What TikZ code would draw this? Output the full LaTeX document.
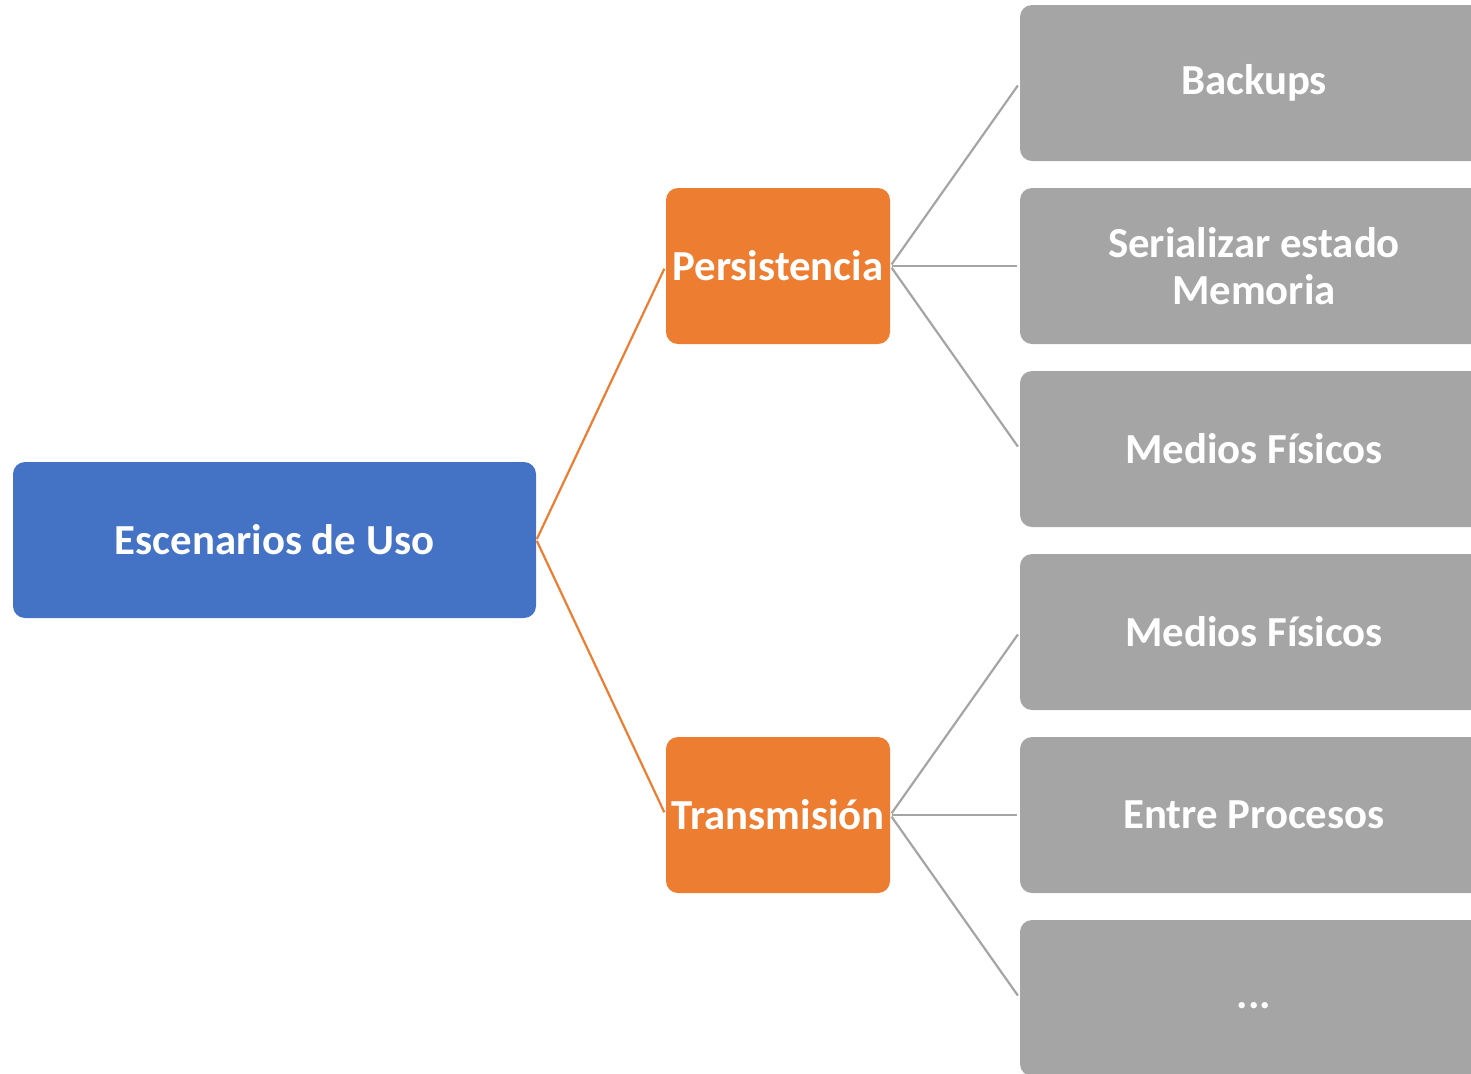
\documentclass[tikz,border=0pt]{standalone}
\usepackage{fontspec}
\setmainfont{Carlito}
\usepackage{xcolor}
\definecolor{schemeblue}{RGB}{68,114,196}
\definecolor{schemeorange}{RGB}{237,125,49}
\definecolor{schemegray}{RGB}{165,165,165}

\begin{document}
\begin{tikzpicture}[x=0.5pt,y=-0.5pt,
    rootbox/.style={fill=schemeblue, rounded corners=6pt, inner sep=0pt,
        minimum width=261.5pt, minimum height=78pt, text=white,
        font=\bfseries\fontsize{21.4}{23.5}\selectfont, align=center},
    groupbox/.style={rootbox, fill=schemeorange, minimum width=112pt},
    leafbox/.style={rootbox, fill=schemegray, minimum width=234pt},
    rootlink/.style={draw=schemeorange, line width=1.1pt, shorten <=0.5pt, shorten >=1.5pt},
    leaflink/.style={draw=schemegray, line width=1.1pt, shorten <=1pt, shorten >=1.5pt}]
    \useasboundingbox (0,0) rectangle (1471,1073);
    \clip (0,0) rectangle (1471,1073);

    % Root
    \node[rootbox] (uso) at (274.5,540) {Escenarios de Uso};

    % Groups
    \node[groupbox] (persist) at (778,266) {Persistencia};
    \node[groupbox] (transm) at (778,815) {Transmisión};

    % Leaves
    \node[leafbox] (backups) at (1254,83) {Backups};
    \node[leafbox] (serial) at (1254,266) {Serializar estado\\Memoria};
    \node[leafbox] (medios1) at (1254,449) {Medios Físicos};
    \node[leafbox] (medios2) at (1254,632) {Medios Físicos};
    \node[leafbox] (procesos) at (1254,815) {Entre Procesos};
    \node[leafbox] (otros) at (1254,998) {\vphantom{Bp}...};

    % Links
    \foreach \g in {persist,transm} {
        \draw[rootlink] (uso.east) -- (\g.west);
    }
    \foreach \l in {backups,serial,medios1} {
        \draw[leaflink] (persist.east) -- (\l.west);
    }
    \foreach \l in {medios2,procesos,otros} {
        \draw[leaflink] (transm.east) -- (\l.west);
    }
\end{tikzpicture}
\end{document}
